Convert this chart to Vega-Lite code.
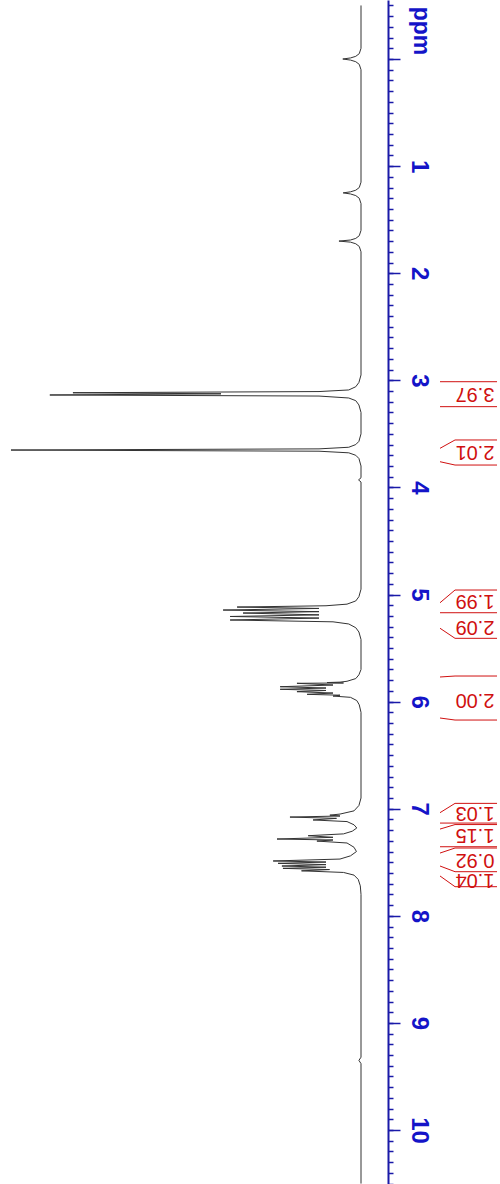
{
  "$schema": "https://vega.github.io/schema/vega-lite/v6.json",
  "width": 500,
  "height": 1184,
  "padding": 0,
  "autosize": {"type": "none"},
  "background": "white",
  "config": {"view": {"stroke": null}},
  "datasets": {
    "spectrum": [
      {"ppm": -0.5, "I": 0}, {"ppm": -0.1, "I": 0}, {"ppm": -0.05, "I": 0.5}, {"ppm": -0.025, "I": 1.5}, {"ppm": -0.01, "I": 3}, {"ppm": 0.0, "I": 5.2}, {"ppm": 0.01, "I": 3}, {"ppm": 0.025, "I": 1.5}, {"ppm": 0.05, "I": 0.5}, {"ppm": 0.1, "I": 0},
      {"ppm": 1.15, "I": 0}, {"ppm": 1.2, "I": 0.5}, {"ppm": 1.225, "I": 1.5}, {"ppm": 1.24, "I": 3}, {"ppm": 1.25, "I": 5.1}, {"ppm": 1.26, "I": 3}, {"ppm": 1.275, "I": 1.5}, {"ppm": 1.3, "I": 0.5}, {"ppm": 1.35, "I": 0},
      {"ppm": 1.6, "I": 0}, {"ppm": 1.65, "I": 0.5}, {"ppm": 1.675, "I": 1.5}, {"ppm": 1.69, "I": 3}, {"ppm": 1.7, "I": 6.3}, {"ppm": 1.71, "I": 3}, {"ppm": 1.725, "I": 1.5}, {"ppm": 1.75, "I": 0.5}, {"ppm": 1.8, "I": 0},
      {"ppm": 2.95, "I": 0}, {"ppm": 3.02, "I": 0.6}, {"ppm": 3.06, "I": 1.5}, {"ppm": 3.09, "I": 3.5}, {"ppm": 3.105, "I": 12}, {"ppm": 3.116, "I": 82.3}, {"ppm": 3.126, "I": 40}, {"ppm": 3.137, "I": 88.9}, {"ppm": 3.147, "I": 12}, {"ppm": 3.165, "I": 3.5}, {"ppm": 3.19, "I": 1.5}, {"ppm": 3.23, "I": 0.6}, {"ppm": 3.3, "I": 0},
      {"ppm": 3.5, "I": 0}, {"ppm": 3.57, "I": 0.6}, {"ppm": 3.6, "I": 1.5}, {"ppm": 3.625, "I": 3.5}, {"ppm": 3.64, "I": 12}, {"ppm": 3.651, "I": 100}, {"ppm": 3.662, "I": 12}, {"ppm": 3.677, "I": 3.5}, {"ppm": 3.7, "I": 1.5}, {"ppm": 3.73, "I": 0.6}, {"ppm": 3.8, "I": 0},
      {"ppm": 3.91, "I": 0}, {"ppm": 3.93, "I": 0.7}, {"ppm": 3.95, "I": 0},
      {"ppm": 4.95, "I": 0}, {"ppm": 5.02, "I": 0.6}, {"ppm": 5.06, "I": 1.5}, {"ppm": 5.09, "I": 4}, {"ppm": 5.105, "I": 10}, {"ppm": 5.117, "I": 35.4}, {"ppm": 5.13, "I": 12}, {"ppm": 5.145, "I": 39.4}, {"ppm": 5.16, "I": 12}, {"ppm": 5.173, "I": 33.7}, {"ppm": 5.19, "I": 12}, {"ppm": 5.205, "I": 37.4}, {"ppm": 5.22, "I": 12}, {"ppm": 5.238, "I": 37.4}, {"ppm": 5.255, "I": 8}, {"ppm": 5.275, "I": 3.5}, {"ppm": 5.31, "I": 1.5}, {"ppm": 5.35, "I": 0.6}, {"ppm": 5.42, "I": 0},
      {"ppm": 5.7, "I": 0}, {"ppm": 5.75, "I": 0.6}, {"ppm": 5.785, "I": 1.5}, {"ppm": 5.81, "I": 4}, {"ppm": 5.818, "I": 6}, {"ppm": 5.822, "I": 9.7}, {"ppm": 5.826, "I": 5}, {"ppm": 5.829, "I": 18.3}, {"ppm": 5.845, "I": 8}, {"ppm": 5.861, "I": 23.1}, {"ppm": 5.873, "I": 10}, {"ppm": 5.885, "I": 23.1}, {"ppm": 5.896, "I": 10}, {"ppm": 5.907, "I": 18.3}, {"ppm": 5.92, "I": 8}, {"ppm": 5.932, "I": 15.4}, {"ppm": 5.94, "I": 6}, {"ppm": 5.948, "I": 8}, {"ppm": 5.96, "I": 3}, {"ppm": 5.99, "I": 1.2}, {"ppm": 6.03, "I": 0.5}, {"ppm": 6.1, "I": 0},
      {"ppm": 6.9, "I": 0}, {"ppm": 6.97, "I": 0.6}, {"ppm": 7.02, "I": 2}, {"ppm": 7.05, "I": 6}, {"ppm": 7.06, "I": 8.9}, {"ppm": 7.068, "I": 6}, {"ppm": 7.078, "I": 20.3}, {"ppm": 7.09, "I": 7}, {"ppm": 7.105, "I": 13.7}, {"ppm": 7.12, "I": 4}, {"ppm": 7.15, "I": 2}, {"ppm": 7.18, "I": 1.2},
      {"ppm": 7.21, "I": 2.5}, {"ppm": 7.235, "I": 5}, {"ppm": 7.252, "I": 15.1}, {"ppm": 7.267, "I": 8}, {"ppm": 7.283, "I": 24}, {"ppm": 7.292, "I": 8}, {"ppm": 7.302, "I": 12.6}, {"ppm": 7.32, "I": 4}, {"ppm": 7.36, "I": 2}, {"ppm": 7.4, "I": 1.3},
      {"ppm": 7.44, "I": 3}, {"ppm": 7.47, "I": 6}, {"ppm": 7.488, "I": 25.1}, {"ppm": 7.498, "I": 10}, {"ppm": 7.51, "I": 23.7}, {"ppm": 7.522, "I": 10}, {"ppm": 7.535, "I": 22.6}, {"ppm": 7.546, "I": 10}, {"ppm": 7.557, "I": 22.3}, {"ppm": 7.568, "I": 9}, {"ppm": 7.58, "I": 17}, {"ppm": 7.595, "I": 5}, {"ppm": 7.62, "I": 2}, {"ppm": 7.66, "I": 0.8}, {"ppm": 7.72, "I": 0.2}, {"ppm": 7.8, "I": 0},
      {"ppm": 9.32, "I": 0}, {"ppm": 9.35, "I": 0.6}, {"ppm": 9.38, "I": 0}, {"ppm": 10.5, "I": 0}
    ],
    "edges": [
      {"r": 3.013, "l": 3.013}, {"r": 3.246, "l": 3.246},
      {"r": 3.635, "l": 3.557}, {"r": 3.76, "l": 3.791},
      {"r": 5.077, "l": 4.958}, {"r": 5.17, "l": 5.17}, {"r": 5.315, "l": 5.409},
      {"r": 5.77, "l": 5.761}, {"r": 6.153, "l": 6.172},
      {"r": 7.037, "l": 6.95}, {"r": 7.134, "l": 7.134},
      {"r": 7.19, "l": 7.148}, {"r": 7.355, "l": 7.355},
      {"r": 7.414, "l": 7.367}, {"r": 7.535, "l": 7.588},
      {"r": 7.628, "l": 7.728}
    ],
    "integrals": [
      {"v": "3.97", "ppm": 3.13}, {"v": "2.01", "ppm": 3.669},
      {"v": "1.99", "ppm": 5.065}, {"v": "2.09", "ppm": 5.303},
      {"v": "2.00", "ppm": 5.985},
      {"v": "1.03", "ppm": 7.04}, {"v": "1.15", "ppm": 7.245},
      {"v": "0.92", "ppm": 7.479}, {"v": "1.04", "ppm": 7.666}
    ],
    "unit": [{"t": "ppm", "ppm": -0.262}]
  },
  "resolve": {"axis": {"y": "independent"}},
  "layer": [
    {
      "data": {"name": "spectrum"},
      "mark": {"type": "line", "stroke": "#333333", "strokeWidth": 1, "interpolate": "linear"},
      "encoding": {
        "x": {"field": "I", "type": "quantitative", "scale": {"domain": [-39.71, 103.14], "reverse": true, "nice": false, "zero": false}, "axis": null},
        "y": {"field": "ppm", "type": "quantitative", "scale": {"domain": [-0.551, 10.504], "reverse": true, "nice": false, "zero": false},
          "axis": {"orient": "right", "offset": -112, "values": [0,1,2,3,4,5,6,7,8,9,10], "grid": false, "title": null,
            "labelExpr": "datum.value == 0 ? '' : datum.label",
            "domainColor": "#1a1aa8", "domainWidth": 2, "tickColor": "#1a1aa8", "tickWidth": 1.5, "tickSize": 12,
            "labelAngle": 90, "labelAlign": "center", "labelBaseline": "middle", "labelPadding": 18,
            "labelFont": "Liberation Sans", "labelFontWeight": "bold", "labelFontSize": 24, "labelColor": "#1414c8", "labelOverlap": false}},
        "order": {"field": "ppm", "type": "quantitative"}
      }
    },
    {
      "data": {"name": "edges"},
      "mark": {"type": "rule", "stroke": "#d01010", "strokeWidth": 1},
      "encoding": {
        "x": {"datum": -22.57, "type": "quantitative", "axis": null},
        "x2": {"datum": -26.86},
        "y": {"field": "r", "type": "quantitative",
          "axis": {"orient": "right", "offset": -112, "tickCount": 111, "labels": false, "domain": false, "grid": false, "title": null,
            "tickColor": "#1a1aa8", "tickWidth": 1.5, "tickSize": 5}},
        "y2": {"field": "l"}
      }
    },
    {
      "data": {"name": "edges"},
      "mark": {"type": "rule", "stroke": "#d01010", "strokeWidth": 1},
      "encoding": {
        "x": {"datum": -26.86, "type": "quantitative", "axis": null},
        "x2": {"datum": -38.86},
        "y": {"field": "l", "type": "quantitative", "axis": null},
        "y2": {"field": "l"}
      }
    },
    {
      "data": {"name": "integrals"},
      "mark": {"type": "text", "angle": 180, "align": "center", "baseline": "middle", "font": "Liberation Sans", "fontSize": 20, "fill": "#d01010"},
      "encoding": {
        "x": {"datum": -32.57, "type": "quantitative", "axis": null},
        "y": {"field": "ppm", "type": "quantitative", "axis": null},
        "text": {"field": "v"}
      }
    },
    {
      "data": {"name": "unit"},
      "mark": {"type": "text", "angle": 90, "align": "center", "baseline": "middle", "font": "Liberation Sans", "fontWeight": "bold", "fontSize": 23, "fill": "#1414c8"},
      "encoding": {
        "x": {"datum": -17.14, "type": "quantitative", "axis": null},
        "y": {"field": "ppm", "type": "quantitative", "axis": null},
        "text": {"field": "t"}
      }
    }
  ]
}
